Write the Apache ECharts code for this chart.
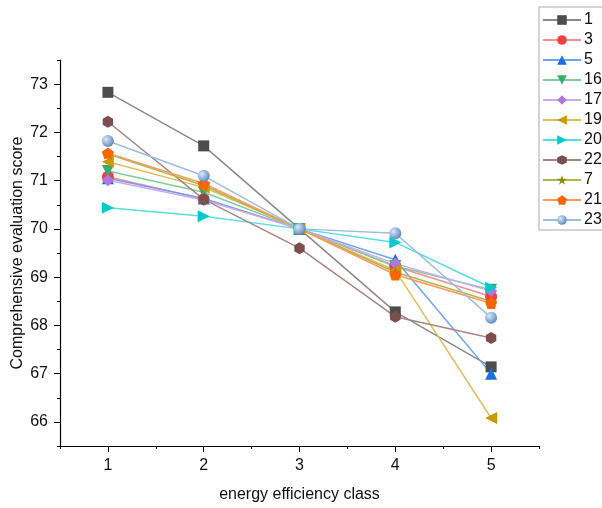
<!DOCTYPE html>
<html>
<head>
<meta charset="utf-8">
<script src="https://cdn.jsdelivr.net/npm/echarts@6/dist/echarts.min.js"></script>
<style>
  html, body { margin: 0; padding: 0; background: #fff; }
  #chart { width: 602px; height: 508px; }
</style>
</head>
<body>
<div id="chart"></div>
<script>
// ===== data =====
const xValues = [1, 2, 3, 4, 5];
const xTicks = [1, 2, 3, 4, 5];
const xHalfTicks = [0.5, 1.5, 2.5, 3.5, 4.5, 5.5];
const yTicks = [66, 67, 68, 69, 70, 71, 72, 73];
const yHalfTicks = [65.5, 66.5, 67.5, 68.5, 69.5, 70.5, 71.5, 72.5, 73.5];

const s1  = [72.83, 71.72, 70.0, 68.28, 67.14];
const s3  = [71.08, 70.62, 70.0, 69.22, 68.60];
const s5  = [71.05, 70.63, 70.0, 69.36, 67.00];
const s16 = [71.20, 70.76, 70.0, 69.23, 68.74];
const s17 = [71.01, 70.60, 70.0, 69.28, 68.71];
const s19 = [71.39, 70.86, 70.0, 69.14, 66.08];
const s20 = [70.44, 70.26, 70.0, 69.72, 68.78];
const s22 = [72.22, 70.61, 69.60, 68.18, 67.74];
const s7  = [71.55, 70.90, 70.0, 69.10, 68.50];
const s21 = [71.57, 70.94, 70.0, 69.05, 68.46];
const s23 = [71.82, 71.10, 70.0, 69.91, 68.16];

const HEX = 'path://M0,-1L0.866,-0.5L0.866,0.5L0,1L-0.866,0.5L-0.866,-0.5Z';
const PENT = 'path://M0,-1L0.951,-0.309L0.588,0.809L-0.588,0.809L-0.951,-0.309Z';
const STAR = 'path://M0,-1L0.225,-0.309L0.951,-0.309L0.363,0.118L0.588,0.809L0,0.382L-0.588,0.809L-0.363,0.118L-0.951,-0.309L-0.225,-0.309Z';

// 名称, 数据, 标记色, 线色, 符号, 旋转
const SERIES = [
  ['1',  s1,  '#4d4d4d', '#8a8a8a', 'rect', 0],
  ['3',  s3,  '#f14040', '#f59090', 'circle', 0],
  ['5',  s5,  '#1a6fdf', '#6fa3ec', 'triangle', 0],
  ['16', s16, '#37ad6b', '#7fcca0', 'triangle', 180],
  ['17', s17, '#b177de', '#cfa9eb', 'diamond', 0],
  ['19', s19, '#cc9900', '#e0be5c', 'triangle', 90],
  ['20', s20, '#00cbcc', '#55dfe0', 'triangle', -90],
  ['22', s22, '#7d4e4e', '#a98585', HEX, 0],
  ['7',  s7,  '#8e8e00', '#b3b34d', STAR, 0],
  ['21', s21, '#fb6501', '#fc9a5a', PENT, 0],
  ['23', s23, '#6699cc', '#9dbde0', 'circle', 0],
];

const FONT = 'Arial, "Liberation Sans", sans-serif';

const dom = document.getElementById('chart');
const chart = echarts.init(dom);

const series = SERIES.map(([name, vals, mc, lc, sym, rot]) => ({
  name,
  type: 'line',
  xAxisIndex: 0,
  yAxisIndex: 0,
  data: xValues.map((x, i) => [x, vals[i]]),
  symbol: sym,
  symbolRotate: rot,
  symbolKeepAspect: true,
  symbolSize: sym === 'rect' ? 11 : 12,
  showAllSymbol: true,
  lineStyle: { color: lc, width: 1.5 },
  itemStyle: {
    color: name === '23'
      ? { type: 'radial', x: 0.35, y: 0.35, r: 0.75,
          colorStops: [{ offset: 0, color: '#dbe8f7' }, { offset: 1, color: '#4f82bd' }] }
      : mc,
  },
  emphasis: { disabled: true },
  z: 2,
}));

const option = {
  animation: false,
  textStyle: { fontFamily: FONT },
  grid: { left: 60, right: 63, top: 60, bottom: 61, containLabel: false },
  legend: {
    orient: 'vertical',
    left: 539,
    top: 7,
    data: SERIES.map(s => s[0]),
    itemWidth: 38,
    itemHeight: 12,
    itemGap: 4,
    padding: [5, 10, 2, 3],
    borderColor: '#aaaaaa',
    borderWidth: 1,
    textStyle: { fontSize: 16, color: '#111', fontFamily: FONT, padding: [0, 0, 0, -2] },
  },
  xAxis: [
    {
      type: 'value', min: 0.5, max: 5.5,
      name: 'energy efficiency class',
      nameLocation: 'middle', nameGap: 41,
      nameTextStyle: { fontSize: 16, color: '#111' },
      splitLine: { show: false },
      axisLine: { onZero: false, lineStyle: { color: '#000', width: 1.2 } },
      axisTick: { customValues: xTicks, length: 6, lineStyle: { color: '#000' } },
      axisLabel: { customValues: xTicks, fontSize: 16, color: '#111', margin: 12 },
    },
    {
      type: 'value', min: 0.5, max: 5.5, position: 'bottom',
      axisLine: { show: false, onZero: false },
      splitLine: { show: false },
      axisTick: { customValues: xHalfTicks, length: 3, lineStyle: { color: '#000' } },
      axisLabel: { show: false },
    },
  ],
  yAxis: [
    {
      type: 'value', min: 65.5, max: 73.5,
      name: 'Comprehensive evaluation score',
      nameLocation: 'middle', nameGap: 34,
      nameMoveOverlap: false,
      nameTextStyle: { fontSize: 16, color: '#111' },
      splitLine: { show: false },
      axisLine: { show: true, onZero: false, lineStyle: { color: '#000', width: 1.2 } },
      axisTick: { show: true, customValues: yTicks, length: 6, lineStyle: { color: '#000' } },
      axisLabel: { customValues: yTicks, fontSize: 16, color: '#111', margin: 12 },
    },
    {
      type: 'value', min: 65.5, max: 73.5, position: 'left',
      axisLine: { show: false, onZero: false },
      splitLine: { show: false },
      axisTick: { show: true, customValues: yHalfTicks, length: 3, lineStyle: { color: '#000' } },
      axisLabel: { show: false },
    },
  ],
  series,
};

chart.setOption(option);
window.addEventListener('resize', () => chart.resize());
</script>
</body>
</html>
